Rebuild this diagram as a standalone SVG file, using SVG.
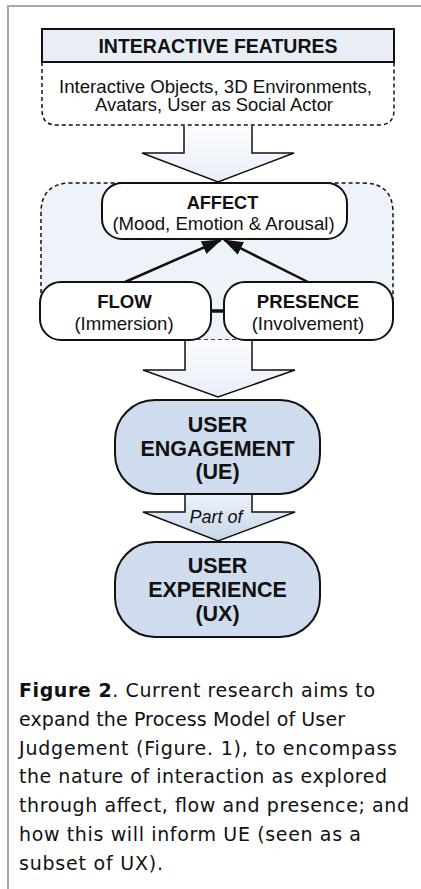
<svg xmlns="http://www.w3.org/2000/svg" width="421" height="889" viewBox="0 0 421 889">
<style>
.sans{font-family:"Liberation Sans",Arial,sans-serif;fill:#111}
.b{font-weight:bold}
.cap{font-family:"DejaVu Sans",Verdana,sans-serif;font-size:19px;fill:#111}
.dash{fill:none;stroke:#111;stroke-width:1.5;stroke-dasharray:4 3}
.box{stroke:#111;stroke-width:2}
.blk{stroke:#111;stroke-width:1.5}
</style>
<defs>
<linearGradient id="g1" x1="0" y1="0" x2="0" y2="1">
<stop offset="0" stop-color="#fbfcfe"/><stop offset="1" stop-color="#e9eff8"/>
</linearGradient>
<linearGradient id="g2" x1="0" y1="0" x2="0" y2="1">
<stop offset="0" stop-color="#eef3f9"/><stop offset="1" stop-color="#c6d5ea"/>
</linearGradient>
<marker id="ah" viewBox="0 0 20 14" refX="19" refY="7" markerWidth="20" markerHeight="14" markerUnits="userSpaceOnUse" orient="auto">
<path d="M0,0 L20,7 L0,14 z" fill="#111"/>
</marker>
</defs>
<rect width="421" height="889" fill="#fff"/>
<path d="M8,889 L8,6 L421,6" fill="none" stroke="#aaa" stroke-width="2"/>

<g id="interactive-features">
<path d="M42,62 L42,110 Q42,125 57,125 L379,125 Q394,125 394,110 L394,62" fill="#fff"/>
<path class="dash" d="M42,62 L42,110 Q42,125 57,125 L379,125 Q394,125 394,110 L394,62"/>
<rect class="box" x="42" y="29" width="352" height="33" fill="#e9eef6"/>
<text class="sans b" x="218" y="53" font-size="19.5" text-anchor="middle">INTERACTIVE FEATURES</text>
<text class="sans" x="215.5" y="92.5" font-size="17.8" text-anchor="middle" textLength="313" lengthAdjust="spacingAndGlyphs">Interactive Objects, 3D Environments,</text>
<text class="sans" x="214" y="110.5" font-size="17.8" text-anchor="middle" textLength="238" lengthAdjust="spacingAndGlyphs">Avatars, User as Social Actor</text>
</g>

<g id="container">
<path d="M41,300 L41,213 Q41,183 71,183 L363,183 Q393,183 393,213 L393,300 L300,300 L300,340 L150,340 L150,300 Z" fill="#eef2f9"/>
<path class="dash" d="M41,300 L41,213 Q41,183 71,183 L363,183 Q393,183 393,213 L393,300"/>
<line class="dash" x1="190" y1="340" x2="246" y2="340"/>
</g>

<g id="connectors">
<path d="M184,126 L184,153 L142,153 L218,182 L294,153 L252,153 L252,126" fill="url(#g1)" class="blk"/>
<path d="M185,340 L185,370 L143,370 L218,397 L295,370 L252,370 L252,340" fill="url(#g1)" class="blk"/>
<path d="M185,494 L185,512 L143,512 L218,541 L295,512 L252,512 L252,494" fill="url(#g2)" class="blk"/>
<text class="sans" x="216" y="523" font-size="18" font-style="italic" text-anchor="middle">Part of</text>
<line x1="125" y1="282" x2="221" y2="240" stroke="#111" stroke-width="2.5" marker-end="url(#ah)"/>
<line x1="308" y1="282" x2="224" y2="240" stroke="#111" stroke-width="2.5" marker-end="url(#ah)"/>
<line x1="211" y1="311" x2="224" y2="311" stroke="#111" stroke-width="3.5"/>
</g>

<g id="affect">
<rect class="box" x="102" y="183" width="245" height="56" rx="20" fill="#fff"/>
<text class="sans b" x="222.5" y="209" font-size="18.2" text-anchor="middle">AFFECT</text>
<text class="sans" x="223.5" y="230" font-size="18.6" text-anchor="middle">(Mood, Emotion &amp; Arousal)</text>
</g>

<g id="flow">
<rect class="box" x="40" y="282" width="171" height="58" rx="21" fill="#fff"/>
<text class="sans b" x="124.5" y="308" font-size="18.6" text-anchor="middle">FLOW</text>
<text class="sans" x="124" y="330" font-size="18.6" text-anchor="middle">(Immersion)</text>
</g>

<g id="presence">
<rect class="box" x="224" y="282" width="169" height="58" rx="21" fill="#fff"/>
<text class="sans b" x="308" y="308" font-size="18.6" text-anchor="middle">PRESENCE</text>
<text class="sans" x="308" y="330" font-size="18.6" text-anchor="middle">(Involvement)</text>
</g>

<g id="user-engagement">
<rect class="box" x="115" y="400" width="205" height="94" rx="40" fill="#cfdcee"/>
<text class="sans b" x="217.5" y="432" font-size="21.5" text-anchor="middle">USER</text>
<text class="sans b" x="217.5" y="455.5" font-size="21.5" text-anchor="middle">ENGAGEMENT</text>
<text class="sans b" x="217.5" y="479" font-size="21.5" text-anchor="middle">(UE)</text>
</g>

<g id="user-experience">
<rect class="box" x="115" y="542" width="205" height="95" rx="40" fill="#cfdcee"/>
<text class="sans b" x="217.5" y="573" font-size="21.5" text-anchor="middle">USER</text>
<text class="sans b" x="217.5" y="597" font-size="21.5" text-anchor="middle">EXPERIENCE</text>
<text class="sans b" x="217.5" y="621" font-size="21.5" text-anchor="middle">(UX)</text>
</g>

<g id="caption">
<text class="cap" x="19" y="697" textLength="356" lengthAdjust="spacing"><tspan font-weight="bold">Figure 2</tspan>. Current research aims to</text>
<text class="cap" x="19" y="725.8" textLength="326" lengthAdjust="spacing">expand the Process Model of User</text>
<text class="cap" x="19" y="754.6" textLength="378" lengthAdjust="spacing">Judgement (Figure. 1), to encompass</text>
<text class="cap" x="19" y="783.4" textLength="368" lengthAdjust="spacing">the nature of interaction as explored</text>
<text class="cap" x="19" y="812.2" textLength="390" lengthAdjust="spacing">through affect, flow and presence; and</text>
<text class="cap" x="19" y="841" textLength="342" lengthAdjust="spacing">how this will inform UE (seen as a</text>
<text class="cap" x="19" y="869.8" textLength="144" lengthAdjust="spacing">subset of UX).</text>
</g>
</svg>
